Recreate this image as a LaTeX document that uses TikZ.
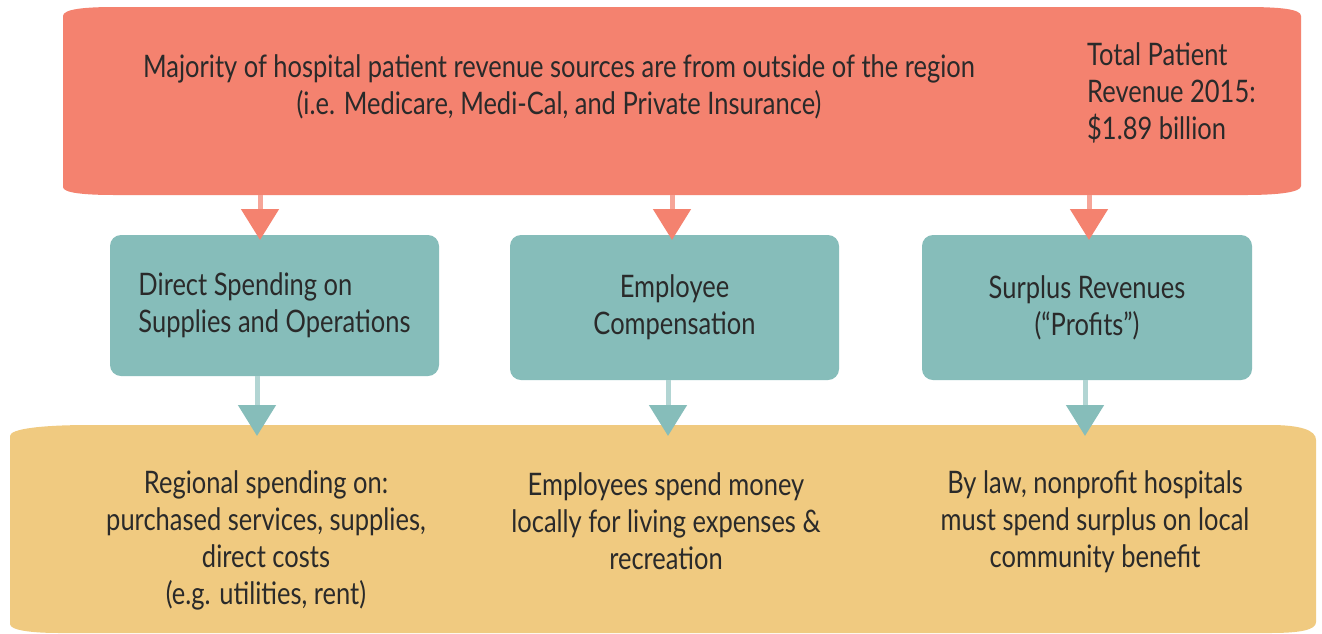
\documentclass[tikz,border=0pt]{standalone}
\usepackage{fontspec}
\setmainfont{Lato}[FakeStretch=0.822]
\usetikzlibrary{arrows.meta}
\definecolor{redc}{HTML}{F4826F}
\definecolor{redl}{HTML}{F6A598}
\definecolor{tealc}{HTML}{86BDBA}
\definecolor{teall}{HTML}{B2D5D3}
\definecolor{yelc}{HTML}{F0CA80}
\definecolor{txt}{HTML}{2A2A2A}
\begin{document}
\begin{tikzpicture}[x=1pt,y=-1pt,
  lbl/.style={font=\fontsize{31}{37}\selectfont, text=txt, inner sep=0pt, align=center},
  tbox/.style={fill=tealc, rounded corners=11pt, inner sep=0pt, minimum width=329pt, minimum height=145pt,
    font=\fontsize{31}{37}\selectfont, text=txt, align=center},
  ghost/.style={inner sep=0pt, draw=none},
  redarr/.style={draw=redl, line width=5pt, -{Triangle[width=37pt,length=31pt,color=redc]}},
  tealarr/.style={draw=teall, line width=5pt, -{Triangle[width=37pt,length=31pt,color=tealc]}}]
\useasboundingbox (0,0) rectangle (1322,633);
\fill[white] (0,0) rectangle (1322,633);
% top red band
\fill[redc] (63,16) .. controls (63,9) and (85,7) .. (115,7) -- (1245,7)
  .. controls (1280,7) and (1301,9) .. (1301,16) -- (1301,186)
  .. controls (1301,192) and (1280,195) .. (1245,195) -- (115,195)
  .. controls (85,195) and (63,193) .. (63,187) -- cycle;
\node[ghost, minimum width=1238pt, minimum height=188pt] (red) at (682,101) {};
% bottom yellow band
\fill[yelc] (10,436) .. controls (10,429) and (40,425) .. (90,425) -- (1270,425)
  .. controls (1300,425) and (1316,430) .. (1316,440) -- (1316,622)
  .. controls (1316,630) and (1300,633) .. (1270,633) -- (60,633)
  .. controls (30,633) and (10,630) .. (10,624) -- cycle;
\node[ghost, minimum width=1306pt, minimum height=208pt] (yel) at (663,529) {};
% texts in red band
\node[lbl] (topmain) at (559,87) {Majority of hospital patient revenue sources are from outside of the region\\(i.e. Medicare, Medi-Cal, and Private Insurance)};
\node[lbl, align=left, anchor=west] (total) at (1087,93) {Total Patient\\Revenue 2015:\\\$1.89 billion};
% teal boxes
\node[tbox, minimum height=141pt, align=left] (t1) at (274.5,305.5) {Direct Spending on\\Supplies and Operations};
\node[tbox] (t2) at (674.5,307.5) {Employee\\Compensation};
\node[tbox, minimum width=330pt] (t3) at (1087,307.5) {Surplus Revenues\\(“Profits”)};
% texts in yellow band
\node[lbl] (y1t) at (266,540) {Regional spending on:\\purchased services, supplies,\\direct costs\\(e.g. utilities, rent)};
\node[lbl] (y2t) at (666,521.5) {Employees spend money\\locally for living expenses \&\\recreation};
\node[lbl] (y3t) at (1095,521.5) {By law, nonprofit hospitals\\must spend surplus on local\\community benefit};
% arrow end points
\coordinate (r1) at (260,240);
\coordinate (r2) at (672,240);
\coordinate (r3) at (1089,240);
\coordinate (b1) at (257,436);
\coordinate (b2) at (668,436);
\coordinate (b3) at (1085,436);
\draw[redarr] (red.south -| r1) -- (r1);
\draw[redarr] (red.south -| r2) -- (r2);
\draw[redarr] (red.south -| r3) -- (r3);
\draw[tealarr] (t1.south -| b1) -- (b1);
\draw[tealarr] (t2.south -| b2) -- (b2);
\draw[tealarr] (t3.south -| b3) -- (b3);
\end{tikzpicture}
\end{document}
